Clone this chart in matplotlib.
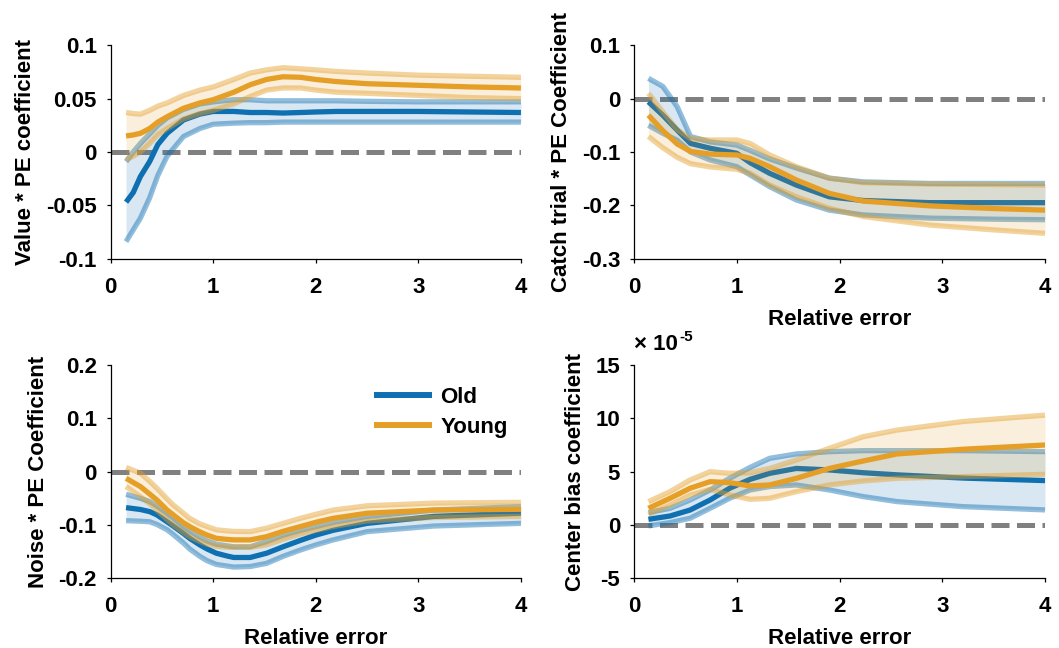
import matplotlib
matplotlib.use("Agg")
import matplotlib.pyplot as plt
from matplotlib.ticker import FixedLocator, FixedFormatter

plt.rcParams['font.family'] = ['Liberation Sans', 'DejaVu Sans']
plt.rcParams['font.weight'] = 'bold'
plt.rcParams['axes.labelweight'] = 'bold'

# ---------------- data ----------------
groups = ["Old", "Young"]
x_ticks = [0, 1, 2, 3, 4]
x_tick_labels = ["0", "1", "2", "3", "4"]
x_label = "Relative error"

# Panel 1: Value * PE coefficient
x1 = [0.15, 0.22, 0.29, 0.38, 0.46, 0.55, 0.71, 0.87, 1.0, 1.2, 1.36, 1.52, 1.68, 1.85, 2.0, 2.2, 2.5, 3.0, 3.5, 4.0]
old1_mean = [-0.047, -0.038, -0.023, -0.009, 0.007, 0.0175, 0.030, 0.0355, 0.038, 0.038, 0.037, 0.037, 0.0365, 0.037, 0.0375, 0.038, 0.038, 0.038, 0.0375, 0.037]
old1_hi = [-0.009, 0.0, 0.008, 0.017, 0.025, 0.032, 0.040, 0.045, 0.047, 0.049, 0.049, 0.048, 0.048, 0.048, 0.048, 0.048, 0.0475, 0.047, 0.047, 0.047]
old1_lo = [-0.084, -0.073, -0.062, -0.043, -0.022, -0.004, 0.0145, 0.022, 0.026, 0.027, 0.0275, 0.0275, 0.028, 0.028, 0.028, 0.028, 0.028, 0.028, 0.028, 0.028]
young1_mean = [0.015, 0.016, 0.0175, 0.022, 0.028, 0.033, 0.041, 0.046, 0.049, 0.056, 0.063, 0.068, 0.0705, 0.070, 0.068, 0.066, 0.064, 0.0625, 0.061, 0.060]
young1_hi = [0.037, 0.036, 0.0355, 0.039, 0.043, 0.046, 0.053, 0.058, 0.061, 0.068, 0.074, 0.077, 0.079, 0.078, 0.077, 0.0755, 0.074, 0.072, 0.071, 0.070]
young1_lo = [-0.0075, -0.004, 0.0, 0.008, 0.016, 0.022, 0.031, 0.036, 0.039, 0.045, 0.052, 0.058, 0.060, 0.060, 0.058, 0.056, 0.055, 0.053, 0.051, 0.050]
y1_ticks = [-0.1, -0.05, 0, 0.05, 0.1]
y1_tick_labels = ["-0.1", "-0.05", "0", "0.05", "0.1"]
y1_label = "Value * PE coefficient"

# Panel 2: Catch trial * PE Coefficient
x2 = [0.14, 0.28, 0.42, 0.55, 0.74, 1.0, 1.13, 1.32, 1.58, 1.9, 2.23, 2.88, 3.5, 4.0]
old2_mean = [-0.006, -0.031, -0.059, -0.084, -0.093, -0.1025, -0.12, -0.14, -0.162, -0.184, -0.191, -0.195, -0.195, -0.195]
old2_hi = [0.038, 0.023, -0.015, -0.071, -0.081, -0.087, -0.097, -0.113, -0.13, -0.149, -0.156, -0.159, -0.159, -0.159]
old2_lo = [-0.05, -0.065, -0.078, -0.10, -0.115, -0.1275, -0.143, -0.165, -0.19, -0.209, -0.218, -0.224, -0.226, -0.227]
young2_mean = [-0.031, -0.06, -0.085, -0.099, -0.104, -0.1056, -0.112, -0.1275, -0.1525, -0.1775, -0.192, -0.201, -0.206, -0.209]
young2_hi = [0.01, -0.025, -0.058, -0.075, -0.0775, -0.0775, -0.084, -0.1056, -0.1275, -0.149, -0.1575, -0.16, -0.161, -0.162]
young2_lo = [-0.071, -0.092, -0.11, -0.122, -0.128, -0.1325, -0.14, -0.162, -0.184, -0.2056, -0.221, -0.237, -0.246, -0.2525]
y2_ticks = [-0.3, -0.2, -0.1, 0, 0.1]
y2_tick_labels = ["-0.3", "-0.2", "-0.1", "0", "0.1"]
y2_label = "Catch trial * PE Coefficient"

# Panel 3: Noise * PE Coefficient
x3 = [0.15, 0.29, 0.38, 0.45, 0.55, 0.61, 0.71, 0.77, 0.87, 0.94, 1.03, 1.13, 1.2, 1.36, 1.52, 1.68, 1.85, 2.0, 2.17, 2.5, 3.15, 4.0]
old3_mean = [-0.0675, -0.071, -0.075, -0.081, -0.094, -0.102, -0.116, -0.125, -0.1375, -0.145, -0.153, -0.158, -0.161, -0.161, -0.153, -0.141, -0.129, -0.119, -0.11, -0.097, -0.084, -0.078]
old3_hi = [-0.0425, -0.05, -0.056, -0.064, -0.078, -0.087, -0.103, -0.111, -0.123, -0.130, -0.136, -0.139, -0.141, -0.141, -0.131, -0.119, -0.110, -0.103, -0.095, -0.084, -0.072, -0.0656]
old3_lo = [-0.092, -0.093, -0.094, -0.099, -0.109, -0.118, -0.134, -0.145, -0.159, -0.167, -0.174, -0.177, -0.179, -0.178, -0.172, -0.159, -0.147, -0.1375, -0.128, -0.1125, -0.102, -0.097]
young3_mean = [-0.0125, -0.028, -0.042, -0.053, -0.072, -0.081, -0.096, -0.103, -0.113, -0.119, -0.125, -0.127, -0.128, -0.128, -0.122, -0.112, -0.103, -0.095, -0.0875, -0.078, -0.072, -0.0706]
young3_hi = [0.008, -0.003, -0.018, -0.031, -0.051, -0.0625, -0.078, -0.0875, -0.098, -0.103, -0.109, -0.111, -0.112, -0.1125, -0.106, -0.097, -0.0875, -0.080, -0.072, -0.064, -0.059, -0.0575]
young3_lo = [-0.028, -0.047, -0.06, -0.072, -0.09, -0.1, -0.114, -0.122, -0.131, -0.136, -0.140, -0.142, -0.142, -0.142, -0.1375, -0.127, -0.117, -0.110, -0.103, -0.0925, -0.086, -0.084]
y3_ticks = [-0.2, -0.1, 0, 0.1, 0.2]
y3_tick_labels = ["-0.2", "-0.1", "0", "0.1", "0.2"]
y3_label = "Noise * PE Coefficient"

# Panel 4: Center bias coefficient (units of 1e-5)
x4 = [0.14, 0.35, 0.545, 0.74, 0.93, 1.13, 1.32, 1.58, 1.9, 2.23, 2.56, 3.2, 4.0]
old4_mean = [0.53, 0.84, 1.4, 2.34, 3.44, 4.28, 4.84, 5.3, 5.16, 4.9, 4.7, 4.4, 4.16]
old4_hi = [1.16, 1.56, 2.34, 3.28, 4.375, 5.4, 6.25, 6.66, 6.875, 6.97, 6.97, 6.97, 6.875]
old4_lo = [-0.09, 0.22, 0.625, 1.56, 2.5, 3.28, 3.6, 3.75, 3.28, 2.66, 2.19, 1.72, 1.41]
young4_mean = [1.56, 2.5, 3.44, 4.06, 3.97, 3.66, 3.75, 4.375, 5.3, 6.0, 6.66, 7.1, 7.5]
young4_hi = [2.19, 3.125, 4.22, 5.0, 4.84, 4.9, 5.3, 6.1, 7.19, 8.28, 8.9, 9.7, 10.3]
young4_lo = [1.0, 1.875, 2.8, 3.34, 2.81, 2.4, 2.5, 3.125, 3.75, 4.125, 4.375, 4.53, 4.75]
y4_ticks = [-5, 0, 5, 10, 15]
y4_tick_labels = ["-5", "0", "5", "10", "15"]
y4_label = "Center bias coefficient"
y4_mult_base = "× 10"
y4_mult_exp = "-5"

# ---------------- style ----------------
colors = {"Old": "#0E6FB1", "Young": "#E69F26"}
FS = 16
LW = 3.8

fig = plt.figure(figsize=(10.59, 6.48), dpi=100)
positions = [
    [0.1045, 0.6008, 0.3874, 0.3293],
    [0.5987, 0.6008, 0.3881, 0.3293],
    [0.1045, 0.1076, 0.3874, 0.3291],
    [0.5987, 0.1076, 0.3881, 0.3291],
]

panels = [
    (x1, (old1_mean, old1_lo, old1_hi), (young1_mean, young1_lo, young1_hi), y1_ticks, y1_tick_labels, y1_label, False),
    (x2, (old2_mean, old2_lo, old2_hi), (young2_mean, young2_lo, young2_hi), y2_ticks, y2_tick_labels, y2_label, True),
    (x3, (old3_mean, old3_lo, old3_hi), (young3_mean, young3_lo, young3_hi), y3_ticks, y3_tick_labels, y3_label, True),
    (x4, (old4_mean, old4_lo, old4_hi), (young4_mean, young4_lo, young4_hi), y4_ticks, y4_tick_labels, y4_label, True),
]

axes = []
for pos, (xs, old, young, yt, ytl, ylab, show_xlabel) in zip(positions, panels):
    ax = fig.add_axes(pos)
    axes.append(ax)
    ax.axhline(0, color="#808080", lw=3.6, dashes=(3.6, 1.5), zorder=1)
    handles = []
    for name, (m, lo, hi) in zip(groups, [old, young]):
        c = colors[name]
        ax.fill_between(xs, lo, hi, color=c, alpha=0.16, lw=0, zorder=2)
        ax.plot(xs, hi, color=c, alpha=0.45, lw=LW, solid_capstyle="butt", zorder=2)
        ax.plot(xs, lo, color=c, alpha=0.45, lw=LW, solid_capstyle="butt", zorder=2)
        h, = ax.plot(xs, m, color=c, lw=LW, solid_capstyle="butt", zorder=2, label=name)
        handles.append(h)
    ax.set_xlim(0, 4)
    ax.set_ylim(yt[0], yt[-1])
    ax.xaxis.set_major_locator(FixedLocator(x_ticks))
    ax.xaxis.set_major_formatter(FixedFormatter(x_tick_labels))
    ax.yaxis.set_major_locator(FixedLocator(yt))
    ax.yaxis.set_major_formatter(FixedFormatter(ytl))
    for s in ["top", "right"]:
        ax.spines[s].set_visible(False)
    for s in ["left", "bottom"]:
        ax.spines[s].set_linewidth(0.9)
    ax.tick_params(axis="both", direction="out", length=3, width=0.9, labelsize=FS)
    ax.tick_params(axis="y", pad=7)
    ax.tick_params(axis="x", pad=10)
    for lab in ax.get_xticklabels() + ax.get_yticklabels():
        lab.set_fontweight("bold")
    ax.set_ylabel(ylab, fontsize=FS, fontweight="bold", labelpad=7)
    if show_xlabel:
        ax.set_xlabel(x_label, fontsize=FS, fontweight="bold", labelpad=8)

axes[2].legend(handles=handles, labels=groups, loc="upper left", bbox_to_anchor=(0.593, 0.99),
               frameon=False, handlelength=2.6, handletextpad=0.4, labelspacing=0.38,
               prop={"weight": "bold", "size": FS})
for line in axes[2].get_legend().get_lines():
    line.set_linewidth(4.3)

base = axes[3].annotate(y4_mult_base, xy=(0.0, 1.0), xycoords="axes fraction",
                        xytext=(0, 7), textcoords="offset points",
                        fontsize=FS, fontweight="bold", ha="left", va="bottom")
axes[3].annotate(y4_mult_exp, xy=(1.0, 1.0), xycoords=base,
                 xytext=(1, 3), textcoords="offset points",
                 fontsize=FS - 5, fontweight="bold", ha="left", va="top")

fig.savefig("out.png", dpi=100)
